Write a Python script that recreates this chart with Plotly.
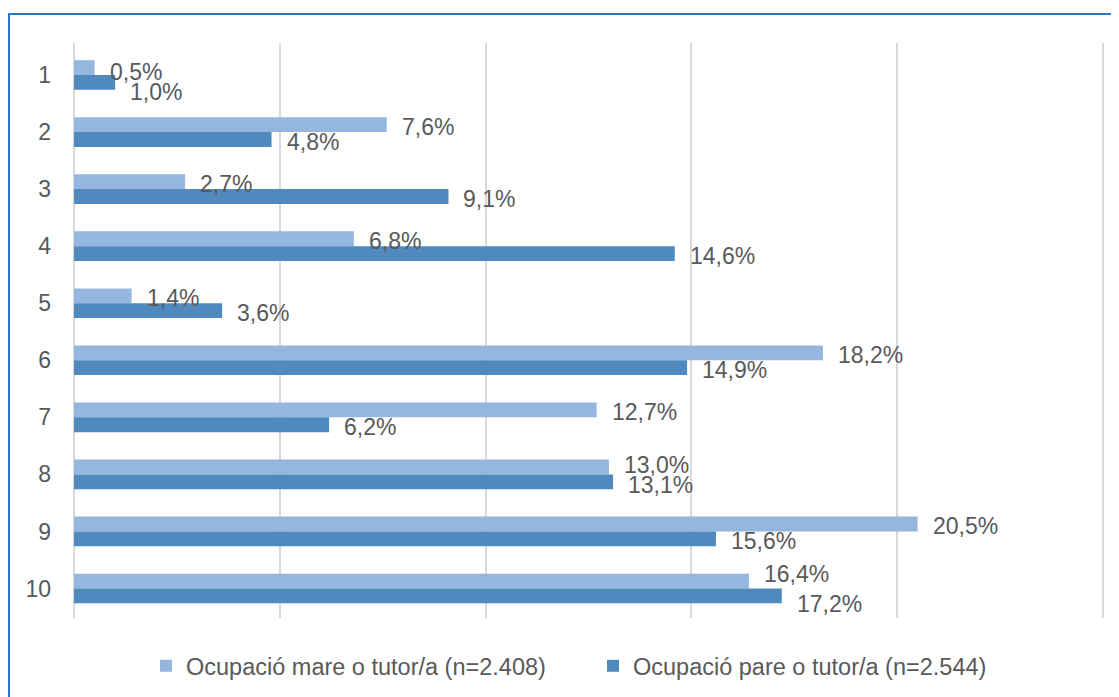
import plotly.graph_objects as go

categories = ["1", "2", "3", "4", "5", "6", "7", "8", "9", "10"]
mare = [0.5, 7.6, 2.7, 6.8, 1.4, 18.2, 12.7, 13.0, 20.5, 16.4]
pare = [1.0, 4.8, 9.1, 14.6, 3.6, 14.9, 6.2, 13.1, 15.6, 17.2]
series_names = ["Ocupació mare o tutor/a (n=2.408)", "Ocupació pare o tutor/a (n=2.544)"]
colors = ["#95B7DF", "#4F89BE"]

# extra vertical nudges (px, positive = down) for labels that would collide
label_nudge = {"1": (2.5, 7.5), "8": (-4, 1.5), "10": (-9, 6)}

FONT = "Liberation Sans, Arial, sans-serif"
TXT = "#595959"

def fmt(v):
    return f"{v:.1f}".replace(".", ",") + "%"

fig = go.Figure()
for name, vals, col in zip(series_names, [mare, pare], colors):
    fig.add_trace(go.Bar(
        y=categories, x=vals, orientation="h", name=name,
        marker=dict(color=col, line=dict(width=0)),
        hoverinfo="skip",
    ))

annotations = []
for k, (vals, ys) in enumerate([(mare, 5.5), (pare, -9.5)]):
    for i, (c, v) in enumerate(zip(categories, vals)):
        nudge = label_nudge.get(c, (0, 0))[k]
        annotations.append(dict(
            x=v, y=i, xref="x", yref="y", text=fmt(v), showarrow=False,
            xanchor="left", yanchor="middle", xshift=13, yshift=ys - nudge,
            font=dict(family=FONT, size=23, color=TXT),
        ))

fig.update_layout(
    width=1111, height=689,
    margin=dict(l=66, r=15, t=35, b=79, autoexpand=False),
    paper_bgcolor="white", plot_bgcolor="white",
    barmode="group", bargap=0.48, bargroupgap=0,
    separators=", ",
    font=dict(family=FONT, size=23, color=TXT),
    annotations=annotations,
    showlegend=True,
    legend=dict(
        orientation="h", x=0.0699, xanchor="left", y=-0.0835, yanchor="middle",
        font=dict(family=FONT, size=23.5, color=TXT),
        traceorder="normal", itemwidth=30, entrywidth=402,
    ),
    xaxis=dict(
        range=[0, 25.03], dtick=5, showticklabels=False,
        showgrid=True, gridcolor="#D9D9D9", gridwidth=2,
        zeroline=True, zerolinecolor="#D9D9D9", zerolinewidth=2,
        showline=False, ticks="", automargin=False,
    ),
    yaxis=dict(
        categoryorder="array", categoryarray=categories, autorange="reversed",
        showgrid=False, zeroline=False, showline=False, ticks="",
        ticklabelstandoff=22, automargin=False,
        tickfont=dict(family=FONT, size=23, color=TXT),
    ),
    shapes=[dict(
        type="rect", xref="paper", yref="paper",
        x0=-0.0631, x1=1.05, y0=-0.3, y1=1.0504,
        line=dict(color="#2E75C6", width=2), fillcolor="rgba(0,0,0,0)",
        layer="above",
    )],
)

fig.write_html("out.html")
